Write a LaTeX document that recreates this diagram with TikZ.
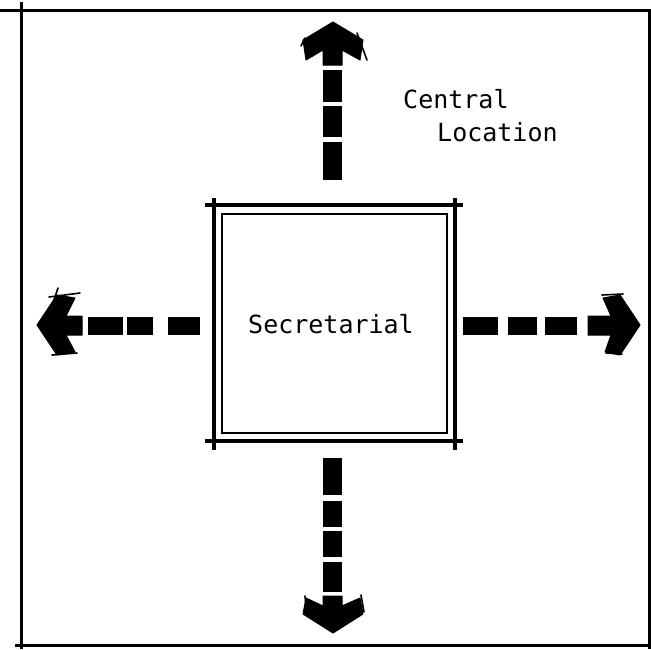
\documentclass[tikz,border=0pt]{standalone}
\usepackage{fontspec}
\newfontfamily\monof{DejaVu Sans Mono}
\begin{document}
\begin{tikzpicture}[x=1pt,y=-1pt,
  frame/.style={line width=3pt},
  boxout/.style={line width=4pt},
  boxin/.style={line width=1.8pt},
  dashbox/.style={fill=black},
  headshape/.style={fill=black,draw=black,line width=1pt,line join=round},
  sketch/.style={line width=1.6pt,line cap=round},
  lbl/.style={font=\monof\fontsize{25}{30}\selectfont,inner sep=0pt}]
\useasboundingbox (0,0) rectangle (651,649);
% outer frame
\draw[frame] (0,10) -- (651,10);
\draw[frame] (21,2) -- (21,649);
\draw[frame] (15,645) -- (651,645);
\draw[frame] (649.5,10) -- (649.5,649);
% central box (double lines, sketchy corners)
\draw[boxout] (205,205) -- (463,205);
\draw[boxout] (205,441) -- (463,441);
\draw[boxout] (214,198) -- (214,450);
\draw[boxout] (455,198) -- (455,450);
\draw[boxin] (222,214) rectangle (447,433);
\node[lbl,anchor=base] (sec) at (331,333) {Secretarial};
% labels
\node[lbl,anchor=base west] (central) at (403,108) {Central};
\node[lbl,anchor=base west] (location) at (437,141) {Location};
% up arrow
\fill[dashbox] (323,70) rectangle (342,102);
\fill[dashbox] (323,106) rectangle (342,137);
\fill[dashbox] (323,142) rectangle (342,180);
\filldraw[headshape] (333,22) -- (303,40) -- (306,60) -- (323,50) -- (323,65) -- (342,65) -- (342,50) -- (360,60) -- (363,40) -- cycle;
\draw[sketch] (357,33) -- (367,60);
\draw[sketch] (305,38) -- (301,46);
% down arrow
\fill[dashbox] (323,458) rectangle (342,495);
\fill[dashbox] (323,501) rectangle (342,527);
\fill[dashbox] (323,531) rectangle (342,557);
\fill[dashbox] (323,562) rectangle (342,592);
\filldraw[headshape] (333,633) -- (303,614) -- (306,598) -- (323,606) -- (323,596) -- (342,596) -- (342,606) -- (360,598) -- (363,614) -- cycle;
\draw[sketch] (305,596) -- (307,616);
\draw[sketch] (361,595) -- (364,612);
% left arrow
\fill[dashbox] (88,317) rectangle (123,335);
\fill[dashbox] (127,317) rectangle (153,335);
\fill[dashbox] (168,317) rectangle (200,335);
\filldraw[headshape] (37,325) -- (57,295) -- (75,298) -- (66,316) -- (82,316) -- (82,335) -- (66,335) -- (75,352) -- (57,355) -- cycle;
\draw[sketch] (49,297) -- (80,293);
\draw[sketch] (52,355) -- (77,353);
\draw[sketch] (58,288) -- (54,300);
% right arrow
\fill[dashbox] (463,317) rectangle (498,335);
\fill[dashbox] (508,317) rectangle (537,335);
\fill[dashbox] (545,317) rectangle (577,335);
\filldraw[headshape] (640,325) -- (620,295) -- (603,298) -- (611,316) -- (588,316) -- (588,335) -- (611,335) -- (605,352) -- (620,355) -- cycle;
\draw[sketch] (602,295) -- (623,294);
\draw[sketch] (606,353) -- (622,354);
\end{tikzpicture}
\end{document}
